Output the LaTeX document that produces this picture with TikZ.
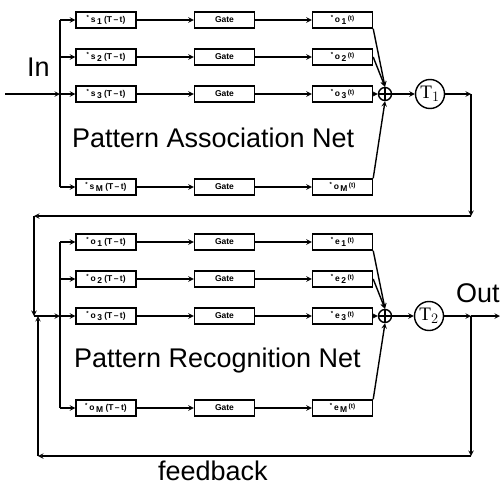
\documentclass[tikz,border=0pt]{standalone}
\usepackage{fontspec}
\setmainfont{Liberation Sans}
\newfontfamily\delayfont{Liberation Serif}
\usetikzlibrary{arrows}
\newcommand{\past}[2]{\textsuperscript{*}\,#1\,\raisebox{-2pt}{#2}\ (T\,--\,t)}
\newcommand{\now}[2]{\textsuperscript{*}\,#1\,\raisebox{-2pt}{#2}\,\raisebox{1.5pt}{\fontsize{6.5}{6.5}\selectfont(t)}}
\tikzset{
  cell/.style={draw,minimum width=60pt,minimum height=16pt,inner sep=0pt,
    font=\fontsize{8.5}{9}\selectfont\bfseries},
  adder/.style={draw,circle,minimum size=13pt,inner sep=0pt,
    path picture={\draw (path picture bounding box.north) -- (path picture bounding box.south)
      (path picture bounding box.west) -- (path picture bounding box.east);}},
  delay/.style={draw,circle,minimum size=29pt,inner sep=0pt,font=\fontsize{19}{19}\delayfont},
  big/.style={font=\fontsize{27}{30}\selectfont}
}

\begin{document}
\begin{tikzpicture}[>=stealth,x=1pt,y=-1pt,line width=1.4pt]
\useasboundingbox (0,0) rectangle (500,487);
% association net
\coordinate (inL) at (5,94);
\coordinate (ba1) at (60,20);
\coordinate (ba2) at (60,57);
\coordinate (ba3) at (60,94);
\coordinate (ba4) at (60,187);
\node[cell] (s1) at (106,20) {\past{s}{1}};
\node[cell] (s2) at (106,57) {\past{s}{2}};
\node[cell] (s3) at (106,94) {\past{s}{3}};
\node[cell] (sM) at (106,187) {\past{s}{M}};
\node[cell] (ga1) at (224.5,20) {Gate};
\node[cell] (ga2) at (224.5,57) {Gate};
\node[cell] (ga3) at (224.5,94) {Gate};
\node[cell] (gaM) at (224.5,187) {Gate};
\node[cell] (o1) at (342.5,20) {\now{o}{1}};
\node[cell] (o2) at (342.5,57) {\now{o}{2}};
\node[cell] (o3) at (342.5,94) {\now{o}{3}};
\node[cell] (oM) at (342.5,187) {\now{o}{M}};
\node[adder] (sumA) at (385,94) {};
\node[delay] (T1) at (430,94) {T$_1$};
\node[big,anchor=base west] (In) at (23,77) {In};
\node[big,anchor=base west] (PAN) at (68,147) {Pattern Association Net};
\coordinate (cR1) at (471,94);
\coordinate (cR2) at (471,216);
\coordinate (cL1) at (34,216);
\coordinate (cL2) at (34,316);
% recognition net
\coordinate (bb1) at (60,242);
\coordinate (bb2) at (60,279);
\coordinate (bb3) at (60,316);
\coordinate (bb4) at (60,408);
\node[cell] (p1) at (106,242) {\past{o}{1}};
\node[cell] (p2) at (106,279) {\past{o}{2}};
\node[cell] (p3) at (106,316) {\past{o}{3}};
\node[cell] (pM) at (106,408) {\past{o}{M}};
\node[cell] (gb1) at (224.5,242) {Gate};
\node[cell] (gb2) at (224.5,279) {Gate};
\node[cell] (gb3) at (224.5,316) {Gate};
\node[cell] (gbM) at (224.5,408) {Gate};
\node[cell] (e1) at (342.5,242) {\now{e}{1}};
\node[cell] (e2) at (342.5,279) {\now{e}{2}};
\node[cell] (e3) at (342.5,316) {\now{e}{3}};
\node[cell] (eM) at (342.5,408) {\now{e}{M}};
\node[adder] (sumB) at (385,316) {};
\node[delay] (T2) at (429,316) {T$_2$};
\node[big,anchor=base west] (Out) at (452,302) {Out};
\node[big,anchor=base west] (PRN) at (70,367) {Pattern Recognition Net};
\node[big,anchor=base west] (fb) at (154,480) {feedback};
\coordinate (jO) at (471,316);
\coordinate (outR) at (500,316);
\coordinate (fR) at (471,456);
\coordinate (fL) at (38,456);
\coordinate (fU) at (38,316);
% top wiring
\draw[->] (inL) -- (ba3);
\draw (ba1) -- (ba4);
\draw[->] (ba1) -- (s1);
\draw[->] (ba2) -- (s2);
\draw[->] (ba3) -- (s3);
\draw[->] (ba4) -- (sM);
\draw[->] (s1) -- (ga1);
\draw[->] (s2) -- (ga2);
\draw[->] (s3) -- (ga3);
\draw[->] (sM) -- (gaM);
\draw[->] (ga1) -- (o1);
\draw[->] (ga2) -- (o2);
\draw[->] (ga3) -- (o3);
\draw[->] (gaM) -- (oM);
\draw[->] (o1.south east) -- (sumA.north);
\draw[->] (o2.east) -- (sumA.north);
\draw[->] (o3) -- (sumA);
\draw[->] (oM.north east) -- (sumA.south);
\draw[->] (sumA) -- (T1);
\draw[->] (T1) -- (cR1);
\draw[->] (cR1) -- (cR2);
\draw[->] (cR2) -- (cL1);
\draw[->] (cL1) -- (cL2);
\draw[->] (cL2) -- (bb3);
% bottom wiring
\draw (bb1) -- (bb4);
\draw[->] (bb1) -- (p1);
\draw[->] (bb2) -- (p2);
\draw[->] (bb3) -- (p3);
\draw[->] (bb4) -- (pM);
\draw[->] (p1) -- (gb1);
\draw[->] (p2) -- (gb2);
\draw[->] (p3) -- (gb3);
\draw[->] (pM) -- (gbM);
\draw[->] (gb1) -- (e1);
\draw[->] (gb2) -- (e2);
\draw[->] (gb3) -- (e3);
\draw[->] (gbM) -- (eM);
\draw[->] (e1.south east) -- (sumB.north);
\draw[->] (e2.east) -- (sumB.north);
\draw[->] (e3) -- (sumB);
\draw[->] (eM.north east) -- (sumB.south);
\draw[->] (sumB) -- (T2);
\draw[->] (T2) -- (jO);
\draw[->] (jO) -- (outR);
\draw[->] (jO) -- (fR);
\draw[->] (fR) -- (fL);
\draw[->] (fL) -- (fU);
\end{tikzpicture}
\end{document}
